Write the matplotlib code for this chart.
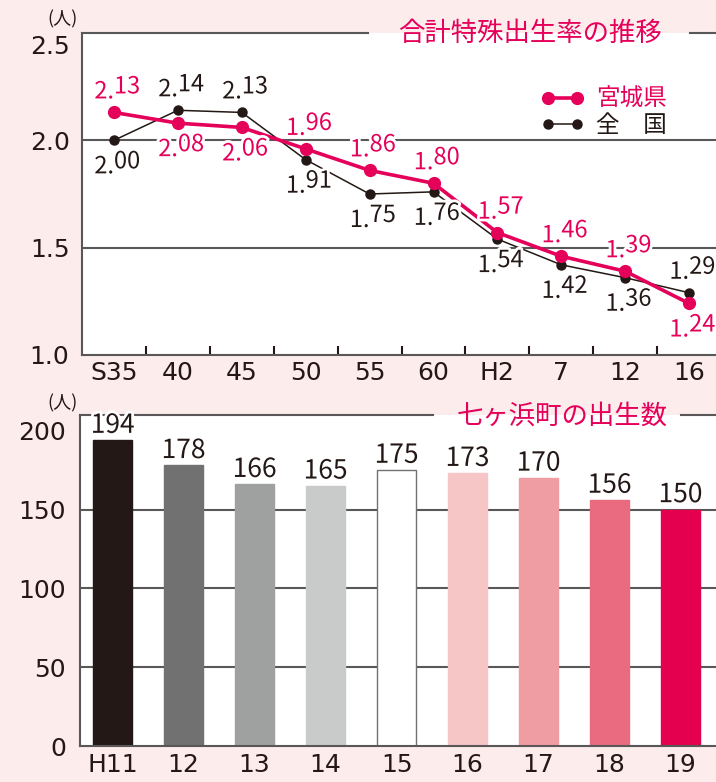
import matplotlib.pyplot as plt
import matplotlib.patheffects as pe
import matplotlib.transforms as mtransforms

plt.rcParams['font.family'] = ['Noto Sans CJK JP', 'DejaVu Sans']

# 合計特殊出生率の推移
rate_years = ['S35', '40', '45', '50', '55', '60', 'H2', '7', '12', '16']
rate_miyagi = [2.13, 2.08, 2.06, 1.96, 1.86, 1.80, 1.57, 1.46, 1.39, 1.24]
rate_japan = [2.00, 2.14, 2.13, 1.91, 1.75, 1.76, 1.54, 1.42, 1.36, 1.29]
rate_ticks = [1.0, 1.5, 2.0, 2.5]

# 七ヶ浜町の出生数
birth_years = ['H11', '12', '13', '14', '15', '16', '17', '18', '19']
births = [194, 178, 166, 165, 175, 173, 170, 156, 150]
birth_ticks = [0, 50, 100, 150, 200]

bar_colors = ['#231815', '#727171', '#9fa0a0', '#c9caca', '#ffffff',
              '#f6c5c6', '#f09ca3', '#ea6b80', '#e4004f']

PINK = '#e5005a'
DARK = '#231815'
GRAY = '#595757'
BG = '#fcecec'
PX = 0.72  # pixel -> point at dpi 100
TICK_FONT = ['DejaVu Sans', 'Noto Sans CJK JP']

W, H = 716, 782
fig = plt.figure(figsize=(W / 100, H / 100), dpi=100, facecolor=BG)


def px_axes(left, top, right, bottom):
    return fig.add_axes([left / W, 1 - bottom / H, (right - left) / W, (bottom - top) / H])


def style_ticklabels(ax):
    for lab in ax.get_xticklabels() + ax.get_yticklabels():
        lab.set_family(TICK_FONT)
        lab.set_fontsize(18)
        lab.set_color(DARK)


halo = [pe.withStroke(linewidth=4, foreground='white')]

# ---------------- 上段: 折れ線 ----------------
ax1 = px_axes(82, 33, 716, 355)
ax1.set_facecolor('white')
x = list(range(len(rate_years)))
ax1.set_xlim(-0.5, 9.42)
ax1.set_ylim(rate_ticks[0], rate_ticks[-1])

for t in rate_ticks[1:-1]:
    ax1.axhline(t, color=GRAY, lw=1.5, zorder=1)

ax1.plot(x, rate_japan, color=DARK, lw=1.1, marker='o', ms=6.5, zorder=3, label='全　国')
ax1.plot(x, rate_miyagi, color=PINK, lw=2.6, marker='o', ms=8.5, zorder=4, label='宮城県')


def rate_label(xi, val, color, above):
    ip, dp = f'{val:.2f}'.split('.')
    dy = 14 if above else -33
    kw = dict(textcoords='offset points', va='baseline', color=color,
              fontsize=17, path_effects=halo, zorder=6)
    ax1.annotate(ip + '.', xy=(xi, val), xytext=(0, dy * PX), ha='right', **kw)
    ax1.annotate(dp, xy=(xi, val), xytext=(0, (dy + 5) * PX), ha='left', **kw)


for i in x:
    m_up = rate_miyagi[i] >= rate_japan[i]
    rate_label(i, rate_miyagi[i], PINK, m_up)
    rate_label(i, rate_japan[i], DARK, not m_up)

ax1.set_xticks(x)
ax1.set_xticklabels(rate_years)
ax1.set_xticks([i + 0.5 for i in x[:-1]], minor=True)
ax1.tick_params(axis='x', which='major', length=0, pad=4)
ax1.tick_params(axis='x', which='minor', direction='in', length=6.5, width=1.5, color=DARK)
ax1.set_yticks(rate_ticks)
ax1.set_yticklabels([f'{t:.1f}' for t in rate_ticks])
ax1.tick_params(axis='y', length=0, pad=9)
style_ticklabels(ax1)
# top label sits a little lower, as in the original
top_lab = ax1.get_yticklabels()[-1]
top_lab.set_transform(top_lab.get_transform() +
                      mtransforms.ScaledTranslation(0, -11 / 100, fig.dpi_scale_trans))

for s in ['top', 'right']:
    ax1.spines[s].set_visible(False)
for s in ['left', 'bottom']:
    ax1.spines[s].set_color(GRAY)
    ax1.spines[s].set_linewidth(1.5)
ax1.plot([0, 0.451], [1, 1], transform=ax1.transAxes, color=GRAY, lw=1.5, clip_on=False)
ax1.plot([0.959, 1], [1, 1], transform=ax1.transAxes, color=GRAY, lw=1.5, clip_on=False)
ax1.text(0.707, 1.0, '合計特殊出生率の推移', transform=ax1.transAxes, ha='center', va='center',
         fontsize=19, color=PINK)

handles, labels = ax1.get_legend_handles_labels()
leg = ax1.legend(handles[::-1], labels[::-1], loc='upper left', bbox_to_anchor=(0.706, 0.866),
                 frameon=False, numpoints=2, handlelength=1.8, handletextpad=0.5,
                 labelspacing=0.15, borderpad=0, prop={'size': 17})
for txt, c in zip(leg.get_texts(), [PINK, DARK]):
    txt.set_color(c)

fig.text(62 / W, 1 - 19 / H, '(人)', ha='center', va='center', fontsize=13, color=DARK)

# ---------------- 下段: 棒グラフ ----------------
ax2 = px_axes(80, 415, 716, 746)
ax2.set_facecolor('white')
xb = list(range(len(birth_years)))
ax2.set_xlim(-0.46, 8.5)
ax2.set_ylim(0, 210)

for t in birth_ticks[1:-1]:
    ax2.axhline(t, color=GRAY, lw=1.5, zorder=1)

bars = ax2.bar(xb, births, width=0.54, color=bar_colors, edgecolor=bar_colors, lw=1, zorder=2)
bars[4].set_edgecolor('#727171')

for xi, v in zip(xb, births):
    ax2.annotate(str(v), xy=(xi, v), xytext=(0, 1), textcoords='offset points', ha='center',
                 va='bottom', fontsize=19, color=DARK, path_effects=halo, zorder=5)

ax2.set_xticks(xb)
ax2.set_xticklabels(birth_years)
ax2.tick_params(axis='x', length=0, pad=5)
ax2.set_yticks(birth_ticks)
ax2.set_yticklabels([str(t) for t in birth_ticks])
ax2.tick_params(axis='y', length=0, pad=10)
style_ticklabels(ax2)

for s in ['top', 'right']:
    ax2.spines[s].set_visible(False)
for s in ['left', 'bottom']:
    ax2.spines[s].set_color(GRAY)
    ax2.spines[s].set_linewidth(1.5)
ax2.plot([0, 0.555], [1, 1], transform=ax2.transAxes, color=GRAY, lw=1.5, clip_on=False)
ax2.plot([0.945, 1], [1, 1], transform=ax2.transAxes, color=GRAY, lw=1.5, clip_on=False)
ax2.text(0.758, 0.995, '七ヶ浜町の出生数', transform=ax2.transAxes, ha='center', va='center',
         fontsize=19, color=PINK)

fig.text(62 / W, 1 - 403 / H, '(人)', ha='center', va='center', fontsize=13, color=DARK)

fig.savefig('out.png', dpi=100, facecolor=BG)
